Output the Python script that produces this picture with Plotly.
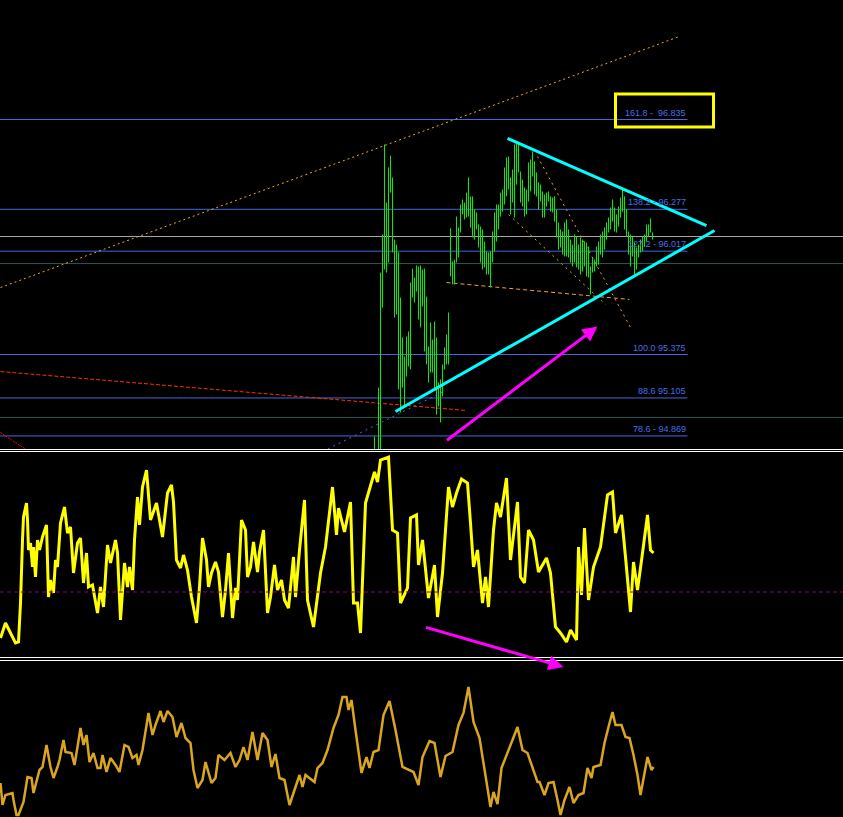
import plotly.graph_objects as go

# ---------------- main panel: price bars (high / low), one bar per x index ----------------
first_bar = 187
bar_high = [94.866, 94.754, 95.170, 95.884, 96.121, 96.680, 96.319, 96.537, 96.611, 96.475,
            96.089, 96.058, 96.009, 95.729, 95.481, 95.363, 95.487, 95.518, 95.822, 95.909,
            95.853, 95.928, 95.922, 95.928, 95.903, 95.909, 95.735, 95.425, 95.574, 95.468,
            95.580, 95.481, 95.201, 95.220, 95.313, 95.419, 95.499, 95.636, 96.158, 95.953,
            95.965, 96.232, 96.164, 96.307, 96.338, 96.319, 96.381, 96.475, 96.357, 96.357,
            96.276, 96.257, 96.183, 96.170, 96.152, 96.077, 96.015, 96.009, 96.015, 96.139,
            96.257, 96.307, 96.307, 96.381, 96.400, 96.537, 96.599, 96.605, 96.475, 96.524,
            96.680, 96.686, 96.692, 96.512, 96.462, 96.413, 96.400, 96.568, 96.587, 96.636,
            96.574, 96.506, 96.444, 96.431, 96.388, 96.369, 96.381, 96.388, 96.357, 96.350,
            96.357, 96.276, 96.195, 96.152, 96.139, 96.195, 96.214, 96.152, 96.089, 96.058,
            96.121, 96.108, 96.058, 96.102, 96.089, 96.077, 96.071, 96.046, 95.922, 95.978,
            95.965, 96.046, 96.077, 96.121, 96.139, 96.164, 96.195, 96.226, 96.288, 96.338,
            96.288, 96.245, 96.294, 96.350, 96.400, 96.357, 96.276, 96.139, 96.121, 96.108,
            96.071, 96.040, 96.058, 96.089, 96.108, 96.121, 96.183, 96.183, 96.220, 96.133]
bar_low = [94.661, 94.661, 94.661, 94.661, 95.667, 95.903, 95.884, 95.947, 96.381, 96.009,
           95.605, 95.624, 95.158, 95.015, 95.170, 95.046, 95.238, 95.300, 95.282, 95.729,
           95.698, 95.766, 95.592, 95.543, 95.673, 95.394, 95.313, 95.201, 95.263, 95.263,
           95.158, 95.002, 95.052, 94.953, 95.114, 95.282, 95.313, 95.313, 95.860, 95.810,
           95.810, 95.947, 95.978, 96.133, 96.245, 96.214, 96.226, 96.232, 96.164, 96.102,
           96.089, 96.152, 96.040, 95.947, 95.903, 95.916, 95.872, 95.872, 95.791, 95.947,
           96.015, 96.077, 96.152, 96.232, 96.263, 96.307, 96.357, 96.400, 96.245, 96.319,
           96.226, 96.431, 96.506, 96.319, 96.294, 96.232, 96.245, 96.326, 96.388, 96.481,
           96.369, 96.357, 96.276, 96.326, 96.226, 96.226, 96.294, 96.326, 96.263, 96.257,
           96.201, 96.102, 96.027, 96.040, 95.996, 95.984, 95.984, 95.978, 95.947, 95.922,
           95.947, 95.916, 95.903, 95.872, 95.891, 95.922, 95.860, 95.853, 95.748, 95.884,
           95.891, 95.922, 95.934, 95.996, 95.978, 96.027, 96.089, 96.133, 96.152, 96.201,
           96.139, 96.133, 96.170, 96.226, 96.263, 96.152, 96.108, 95.996, 95.922, 95.984,
           95.872, 95.903, 95.978, 96.009, 96.015, 96.046, 96.077, 96.108, 96.133, 96.089]

# Fibonacci levels
fib_labels = ["161.8 -  96.835", "138.2 - 96.277", "127.2 - 96.017",
              "100.0 95.375", "88.6 95.105", "78.6 - 94.869"]
fib_prices = [96.835, 96.277, 96.017, 95.375, 95.105, 94.869]
fib_end_bar = 343.5

# other horizontal levels
gray_level = 96.108
teal_levels = [95.940, 94.984]

# drawn objects (bar index, price)
upper_tl_x, upper_tl_y = [253.5, 353.0], [96.717, 96.176]
lower_tl_x, lower_tl_y = [197.5, 357.0], [95.021, 96.145]
long_orange_x, long_orange_y = [0, 339.5], [95.791, 97.351]
red_dash_x, red_dash_y = [0, 233], [95.269, 95.027]
red_dot_x, red_dot_y = [0, 15], [94.890, 94.766]
blue_dot_x, blue_dot_y = [161, 222.5], [94.772, 95.151]
fan_base_x, fan_base_y = [223, 314.5], [95.822, 95.717]
fan1_x, fan1_y = [268.5, 315], [96.605, 95.543]
fan2_x, fan2_y = [254, 302.5], [96.245, 95.686]
box_x, box_y = [307.5, 356.5], [96.788, 96.993]
arrow_main = {"tail": (222.5, 94.835), "head": (298.5, 95.549)}

# ---------------- oscillator panel (yellow) ----------------
osc_points = [(0, -46), (2.5, -31), (5, -41), (7.5, -51), (9, -50), (10, -11), (11, 52), (11.5, 75),
              (13, 89), (13.5, 72), (14, 42), (15, 49), (16, 25), (16.5, 45), (17.5, 15), (18.5, 52),
              (19.5, 42), (21, 55), (23, 67), (24, -5), (25, 12), (26.5, -1), (27.5, 32), (28.5, 25),
              (30, 69), (32, 85), (33.5, 59), (35, 65), (36.5, 19), (38.5, 49), (40, 54), (41.5, 9),
              (43, 39), (44, 5), (46, 7), (48.5, -21), (50, 5), (51.5, -15), (53.5, 47), (55, 29),
              (57.5, 52), (58.5, 39), (60, -28), (62, 29), (63.5, 5), (64.5, 25), (66, 2), (67, 52),
              (68.5, 95), (69.5, 67), (71, 105), (73, 122), (75, 72), (78, 89), (81, 55), (83.5, 99),
              (85.5, 107), (86.5, 90), (88, 32), (90, 24), (91.5, 37), (93.5, 22), (95.5, -5),
              (98, -31), (99.5, 5), (101, 54), (103, 32), (104, 5), (105.5, 19), (107.5, 30),
              (109, 20), (111, -25), (112.5, 2), (114, 39), (116, -26), (117.5, 4), (118.5, -8),
              (120.5, 72), (122.5, 62), (123.5, 15), (125, 25), (126.5, 50), (128.5, 20), (129.5, 40),
              (131.5, 62), (133.5, -21), (135, -5), (137, 27), (138.5, 2), (140.5, 12), (142, -8),
              (144, -16), (146.5, 35), (147.5, -5), (149.5, 42), (152, 92), (153.5, -8), (156.5, -35),
              (160, 19), (162.5, 45), (166, 105), (168, 57), (169, 84), (172, 60), (175, 90),
              (176.5, -11), (178.5, -11), (180, -41), (182.5, 89), (187, 120), (188.5, 110),
              (190, 132), (194, 135), (196, 62), (198.5, 59), (200, -11), (203.5, 4), (205, 74),
              (208, 77), (209, 27), (211, 52), (214, -6), (217, 27), (218.5, -25), (221, 19),
              (224, 105), (226, 85), (228, 99), (230.5, 113), (233.5, 109), (235, 69), (236.5, 25),
              (238.5, 42), (241, -11), (242.5, 15), (244, -15), (246.5, 62), (248, 89), (250, 75),
              (253, 114), (255, 32), (258.5, 90), (260, 15), (262, 9), (264, 62), (266.5, 52),
              (269, 20), (273, 34), (275, 19), (277.5, -35), (280, -41), (283, -50), (285, -38),
              (288, -48), (289, 45), (290.5, -3), (292, 64), (294, -8), (296.5, 25), (300, 45),
              (303.5, 97), (306, 100), (307.5, 59), (310.5, 77), (312.5, 35), (315, -20),
              (316.5, 30), (318.5, 2), (321, 39), (323.5, 77), (325, 42), (326.5, 39)]
osc_level = 0
arrow_osc = {"tail": (212, -35), "head": (281.5, -75)}

# ---------------- bottom panel (orange) ----------------
sig_points = [(0, 34), (1, 12), (2.5, 22), (6, 24), (6.5, 17), (8, 2), (9, 2), (10.5, 10), (11.5, 15),
              (13.5, 40), (15.5, 39), (16.5, 24), (18, 35), (19.5, 47), (21, 50), (23, 72), (25, 50),
              (26.5, 39), (28.5, 50), (29.5, 57), (31.5, 77), (32.5, 65), (35.5, 64), (37, 52),
              (38.5, 70), (40, 89), (41.5, 72), (43, 82), (44.5, 55), (46.5, 64), (48.5, 49), (50, 49),
              (51, 62), (53, 45), (55, 59), (57.5, 52), (59.5, 45), (62, 72), (64, 70), (66, 59),
              (68, 62), (69, 52), (71, 67), (74, 104), (76, 82), (77.5, 92), (80, 106), (81.5, 95),
              (83.5, 106), (86, 100), (88, 80), (90.5, 94), (92.5, 79), (95, 74), (96.5, 47),
              (98.5, 29), (101, 37), (102.5, 55), (105.5, 34), (107.5, 39), (109, 62), (112, 57),
              (115, 64), (117.5, 50), (119.5, 57), (121.5, 70), (123.5, 57), (126, 85), (128.5, 57),
              (131, 84), (133.5, 77), (135.5, 50), (137.5, 63), (139.5, 39), (142, 37), (144.5, 12),
              (146.5, 24), (149.5, 42), (151, 30), (152.5, 42), (157, 35), (158.5, 49), (161, 54),
              (163.5, 67), (166.5, 89), (169, 102), (171, 120), (173, 120), (174, 107), (175.5, 117),
              (177.5, 87), (180.5, 44), (183, 60), (184.5, 49), (186.5, 65), (189, 67), (191.5, 102),
              (194.5, 116), (197.5, 87), (201, 50), (206.5, 45), (209, 32), (211, 60), (214.5, 76),
              (217, 74), (220, 40), (222.5, 61), (226, 65), (229, 92), (231.5, 104), (234, 130),
              (236.5, 95), (239.5, 79), (245, 10), (246.5, 25), (248.5, 13), (250.5, 49), (253, 61),
              (256, 77), (258.5, 90), (261, 67), (263.5, 64), (266.5, 47), (268.5, 35), (269.5, 35),
              (272, 22), (274, 34), (276.5, 35), (278.5, 17), (280, 2), (282, 17), (284.5, 30),
              (286.5, 14), (289, 22), (291.5, 24), (293.5, 49), (295.5, 39), (296.5, 50), (300, 52),
              (302, 74), (304, 90), (306, 105), (307.5, 92), (310.5, 92), (312.5, 80), (314.5, 79),
              (316.5, 62), (318.5, 42), (320, 22), (321.5, 40), (323.5, 60), (325.5, 47), (326.5, 50)]

# ---------------- build figure ----------------
W, H = 843, 817
X_RANGE = [-0.25, 421.25]          # half-pixel offset so 1px bars render crisp
MAIN_RANGE = [94.7879, 97.5774]    # half-pixel offset so 1px levels render crisp
OSC_RANGE = [-65, 140]
SIG_RANGE = [0, 157]

fig = go.Figure()

# horizontal levels (full width)
fig.add_trace(go.Scatter(x=X_RANGE, y=[gray_level, gray_level], mode="lines",
                         line=dict(color="#a8a8a8", width=1), xaxis="x", yaxis="y"))
for lv in teal_levels:
    fig.add_trace(go.Scatter(x=X_RANGE, y=[lv, lv], mode="lines",
                             line=dict(color="#2f5555", width=1), xaxis="x", yaxis="y"))
# fibonacci levels
for p in fib_prices:
    fig.add_trace(go.Scatter(x=[X_RANGE[0], fib_end_bar], y=[p, p], mode="lines",
                             line=dict(color="#4169e1", width=1), xaxis="x", yaxis="y"))

# dotted / dashed helper lines
def seg(x, y, color, dash, width=1):
    fig.add_trace(go.Scatter(x=x, y=y, mode="lines", line=dict(color=color, width=width, dash=dash),
                             xaxis="x", yaxis="y"))

seg(long_orange_x, long_orange_y, "#f0a828", "2px,3px")
seg(red_dash_x, red_dash_y, "#ff3300", "4px,2px")
seg(red_dot_x, red_dot_y, "#ff0000", "2px,1px")
seg(blue_dot_x, blue_dot_y, "#4a6ae8", "2px,4px")
seg(fan_base_x, fan_base_y, "#f0a828", "4px,3px")
seg(fan1_x, fan1_y, "#f0a828", "2px,4px")
seg(fan2_x, fan2_y, "#f0a828", "2px,4px")

# price bars
bx, by = [], []
for i, (h, l) in enumerate(zip(bar_high, bar_low)):
    xi = first_bar + i
    bx += [xi, xi, None]
    by += [l, h, None]
fig.add_trace(go.Scatter(x=bx, y=by, mode="lines", line=dict(color="#00f000", width=1),
                         xaxis="x", yaxis="y"))

# trend lines (cyan)
seg(upper_tl_x, upper_tl_y, "#00ffff", "solid", 3)
seg(lower_tl_x, lower_tl_y, "#00ffff", "solid", 3)

# oscillator
fig.add_trace(go.Scatter(x=[p[0] for p in osc_points], y=[p[1] for p in osc_points], mode="lines",
                         line=dict(color="#ffff00", width=3), xaxis="x", yaxis="y2"))
# bottom indicator
fig.add_trace(go.Scatter(x=[p[0] for p in sig_points], y=[p[1] for p in sig_points], mode="lines",
                         line=dict(color="#daa520", width=2.5), xaxis="x", yaxis="y3"))

shapes = [
    dict(type="rect", xref="x", yref="y", x0=box_x[0], x1=box_x[1], y0=box_y[0], y1=box_y[1],
         line=dict(color="#ffff00", width=3)),
    dict(type="line", xref="paper", yref="y2", x0=0, x1=1, y0=osc_level, y1=osc_level,
         line=dict(color="#800080", width=1, dash="4px,3px")),
]
for py in [449.5, 451.5, 657.5, 660.5]:
    yy = 1 - py / H
    shapes.append(dict(type="line", xref="paper", yref="paper", x0=0, x1=1, y0=yy, y1=yy,
                       line=dict(color="#ffffff", width=1)))

annotations = []
for lab, p in zip(fib_labels, fib_prices):
    annotations.append(dict(x=fib_end_bar, y=p, xref="x", yref="y", text=lab, showarrow=False,
                            xanchor="right", yanchor="bottom",
                            font=dict(family="Liberation Sans, Arial", size=9, color="#4a6ee6")))
annotations.append(dict(x=arrow_main["head"][0], y=arrow_main["head"][1], xref="x", yref="y",
                        ax=arrow_main["tail"][0], ay=arrow_main["tail"][1], axref="x", ayref="y",
                        text="", showarrow=True, arrowhead=2, arrowsize=1, arrowwidth=3,
                        arrowcolor="#ff00ff", standoff=0))
annotations.append(dict(x=arrow_osc["head"][0], y=arrow_osc["head"][1], xref="x", yref="y2",
                        ax=arrow_osc["tail"][0], ay=arrow_osc["tail"][1], axref="x", ayref="y2",
                        text="", showarrow=True, arrowhead=2, arrowsize=1, arrowwidth=3,
                        arrowcolor="#ff00ff", standoff=0))

hidden = dict(visible=False, showgrid=False, zeroline=False, fixedrange=True)
fig.update_layout(
    width=W, height=H, margin=dict(l=0, r=0, t=0, b=0),
    paper_bgcolor="#000000", plot_bgcolor="#000000",
    showlegend=False, hovermode=False,
    xaxis=dict(domain=[0, 1], range=X_RANGE, anchor="y", **hidden),
    yaxis=dict(domain=[1 - 449 / H, 1], range=MAIN_RANGE, anchor="x", **hidden),
    yaxis2=dict(domain=[1 - 657 / H, 1 - 452 / H], range=OSC_RANGE, anchor="x", **hidden),
    yaxis3=dict(domain=[0, 1 - 660 / H], range=SIG_RANGE, anchor="x", **hidden),
    shapes=shapes, annotations=annotations,
)

fig.write_html("out.html", config={"displayModeBar": False},
               post_script="document.body.style.margin='0';document.body.style.background='#000';")
